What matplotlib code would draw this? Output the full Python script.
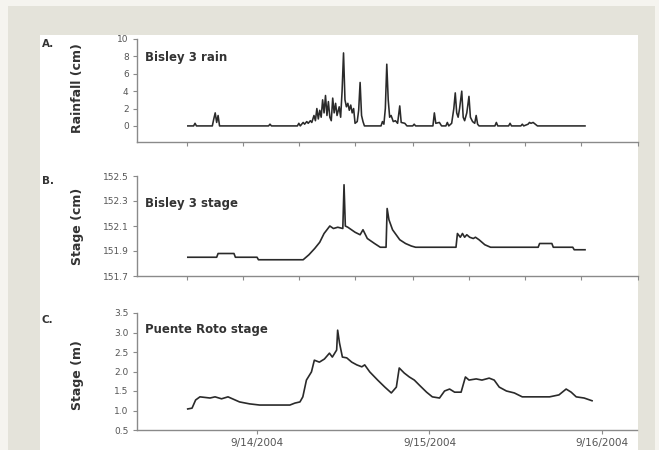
import matplotlib
matplotlib.use("Agg")
import matplotlib.pyplot as plt
from matplotlib.patches import Rectangle

# ---------------- data (time in hours since 9/13/2004 00:00) ----------------
rain_hours = [14.4, 15.2, 15.4, 15.6, 17.8, 18.0, 18.2, 18.4, 18.6, 18.8, 25.6, 25.8, 26.0,
              29.6, 29.8, 30.0, 30.4, 30.6, 30.9, 31.1, 31.4, 31.6, 31.9, 32.1, 32.3, 32.5,
              32.7, 32.9, 33.1, 33.3, 33.5, 33.7, 33.9, 34.1, 34.3, 34.5, 34.7, 34.9, 35.1,
              35.4, 35.6, 35.8, 36.0, 36.2, 36.4, 36.6, 36.8, 37.0, 37.2, 37.4, 37.6, 37.9,
              38.1, 38.3, 38.5, 38.7, 38.9, 41.2, 41.4, 41.6, 41.8, 42.0, 42.2, 42.4, 42.6,
              42.9, 43.2, 43.5, 43.8, 44.0, 44.5, 44.8, 45.6, 45.8, 46.0, 48.4, 48.6, 48.8,
              49.3, 49.6, 50.2, 50.4, 50.6, 51.0, 51.3, 51.5, 51.7, 51.9, 52.1, 52.4, 52.6,
              52.8, 53.1, 53.4, 53.6, 53.9, 54.2, 54.4, 54.6, 54.8, 57.0, 57.2, 57.4, 58.9,
              59.1, 59.3, 60.6, 60.8, 61.0, 61.6, 61.8, 62.0, 62.3, 62.6, 62.9, 69.5]
rain_cm = [0, 0, 0.3, 0, 0, 0.8, 1.5, 0.4, 1.2, 0, 0, 0.2, 0,
           0, 0.3, 0, 0.4, 0.2, 0.5, 0.3, 0.6, 0.4, 1.2, 0.6, 2.0, 0.8,
           1.8, 1.0, 3.0, 1.5, 3.5, 1.2, 2.8, 1.0, 0.6, 3.2, 1.5, 2.6, 1.2,
           2.2, 1.0, 4.0, 8.4, 3.0, 2.2, 2.6, 1.8, 2.4, 1.5, 2.0, 0.3, 0.5,
           1.8, 5.0, 1.2, 0.5, 0, 0, 0.5, 0.2, 2.0, 7.1, 3.0, 1.0, 1.2,
           0.5, 0.6, 0.3, 2.3, 0.4, 0.3, 0, 0, 0.2, 0, 0, 1.5, 0.3,
           0.4, 0, 0, 0.4, 0, 0.3, 2.0, 3.8, 1.5, 1.0, 2.0, 4.0, 1.0,
           0.6, 1.5, 3.4, 1.0, 0.5, 0.3, 1.2, 0.2, 0, 0, 0.4, 0, 0,
           0.3, 0, 0, 0.2, 0, 0.2, 0.4, 0.3, 0.4, 0.2, 0, 0]

bisley_hours = [14.4, 18.4, 18.6, 20.8, 21.0, 24.0, 24.2, 30.4, 31.2, 32.0, 32.7, 33.3, 34.1,
                34.6, 35.2, 35.9, 36.07, 36.25, 36.6, 37.6, 38.3, 38.7, 39.3, 40.3, 41.1,
                41.9, 42.05, 42.3, 42.8, 43.3, 43.8, 44.6, 45.4, 46.0, 51.6, 51.8, 52.2,
                52.5, 52.8, 53.1, 53.5, 54.0, 54.3, 54.8, 55.6, 56.4, 63.0, 63.2, 64.9,
                65.1, 67.8, 68.0, 69.5]
bisley_stage = [151.85, 151.85, 151.88, 151.88, 151.85, 151.85, 151.83, 151.83, 151.87,
                151.92, 151.97, 152.04, 152.10, 152.08, 152.09, 152.08, 152.43, 152.10,
                152.09, 152.05, 152.03, 152.07, 152.00, 151.96, 151.93, 151.93, 152.24,
                152.15, 152.07, 152.03, 151.99, 151.96, 151.94, 151.93, 151.93, 152.04,
                152.01, 152.04, 152.01, 152.03, 152.01, 152.00, 152.01, 151.99, 151.95,
                151.93, 151.93, 151.96, 151.96, 151.93, 151.93, 151.91, 151.91]

puente_hours = [14.4, 15.0, 15.5, 16.1, 17.5, 18.2, 19.1, 20.0, 21.6, 23.0, 24.4, 28.6,
                29.3, 30.0, 30.4, 30.9, 31.6, 32.0, 32.7, 33.4, 34.1, 34.5, 35.1, 35.24,
                35.5, 35.9, 36.5, 37.2, 37.9, 38.6, 39.0, 39.7, 40.8, 41.8, 42.7, 43.4,
                43.8, 44.5, 45.2, 45.9, 46.6, 47.6, 48.4, 49.4, 50.1, 50.8, 51.5, 52.4,
                53.0, 53.5, 54.5, 55.3, 56.3, 57.0, 57.7, 58.7, 59.8, 60.9, 62.6, 64.7,
                66.0, 67.0, 67.7, 68.4, 69.5, 70.6]
puente_stage = [1.04, 1.06, 1.27, 1.35, 1.32, 1.35, 1.30, 1.35, 1.22, 1.17, 1.14, 1.14,
                1.19, 1.22, 1.35, 1.78, 1.99, 2.29, 2.24, 2.32, 2.47, 2.37, 2.55, 3.06,
                2.73, 2.37, 2.35, 2.24, 2.17, 2.12, 2.17, 1.99, 1.78, 1.60, 1.45, 1.60,
                2.09, 1.96, 1.86, 1.78, 1.65, 1.47, 1.35, 1.32, 1.50, 1.55, 1.47, 1.47,
                1.86, 1.78, 1.81, 1.78, 1.83, 1.78, 1.60, 1.50, 1.45, 1.35, 1.35, 1.35,
                1.40, 1.55, 1.47, 1.35, 1.32, 1.25]

rain_yticks = [0, 2, 4, 6, 8, 10]
bisley_yticks = [151.7, 151.9, 152.1, 152.3, 152.5]
puente_yticks = [0.5, 1.0, 1.5, 2.0, 2.5, 3.0, 3.5]
minor_xticks = [14.3, 22.1, 29.8, 37.6, 45.6, 53.4, 61.2, 69.0, 76.8]
date_ticks = [24, 48, 72]
date_labels = ["9/14/2004", "9/15/2004", "9/16/2004"]

titles = ["Bisley 3 rain", "Bisley 3 stage", "Puente Roto stage"]
ylabels = ["Rainfall (cm)", "Stage (cm)", "Stage (m)"]
letters = ["A.", "B.", "C."]

# ---------------- figure ----------------
W, H = 659, 450
fig = plt.figure(figsize=(W / 100, H / 100), dpi=100, facecolor="#f5f4ef")
fig.patches.append(Rectangle((8 / W, 0), 647 / W, 444 / H, transform=fig.transFigure,
                             facecolor="#e4e3da", edgecolor="none", zorder=-2))
fig.patches.append(Rectangle((40 / W, 0), 598 / W, 415 / H, transform=fig.transFigure,
                             facecolor="white", edgecolor="none", zorder=-1))

FONT = "DejaVu Sans"
line_c = "#2a2a2a"
spine_c = "#8a8a8a"

def px_axes(left, top, right, bottom):
    return fig.add_axes([left / W, 1 - bottom / H, (right - left) / W, (bottom - top) / H])

axA = px_axes(137, 39, 638, 142)
axB = px_axes(137, 176, 638, 276)
axC = px_axes(137, 313, 637, 430)

xlim = (7.35, 76.85)

for ax in (axA, axB, axC):
    ax.set_facecolor("none")
    for s in ("top", "right"):
        ax.spines[s].set_visible(False)
    for s in ("left", "bottom"):
        ax.spines[s].set_color(spine_c)
        ax.spines[s].set_linewidth(1.0)
    ax.set_xlim(*xlim)
    ax.tick_params(axis="both", colors=spine_c, labelcolor="#555555", labelsize=6.5,
                   length=3, width=0.8, pad=3)

axA.plot(rain_hours, rain_cm, color=line_c, lw=1.15)
axA.set_ylim(-1.85, 10)
axA.set_yticks(rain_yticks)
axA.set_yticklabels([str(v) for v in rain_yticks])

axB.plot(bisley_hours, bisley_stage, color=line_c, lw=1.2)
axB.set_ylim(151.7, 152.5)
axB.set_yticks(bisley_yticks)
axB.set_yticklabels([f"{v:.1f}" for v in bisley_yticks])

axC.plot(puente_hours, puente_stage, color=line_c, lw=1.2)
axC.set_ylim(0.5, 3.5)
axC.set_yticks(puente_yticks)
axC.set_yticklabels([f"{v:.1f}" for v in puente_yticks])

for ax in (axA, axB):
    ax.set_xticks(minor_xticks)
    ax.set_xticklabels([])
axC.set_xticks(date_ticks)
axC.set_xticklabels(date_labels)
axC.tick_params(axis="x", labelsize=7.5, pad=3)

title_y = [58, 203, 330]
ylabel_y = [88, 226, 375]
letter_y = [44, 181, 320]
for ax, t, yl, l, ty, yy, ly in zip((axA, axB, axC), titles, ylabels, letters,
                                    title_y, ylabel_y, letter_y):
    fig.text(145 / W, 1 - ty / H, t, fontsize=8.5, fontweight="bold", color="#333333",
             family=FONT, ha="left", va="center")
    fig.text(78 / W, 1 - yy / H, yl, fontsize=9, fontweight="bold", color="#333333",
             family=FONT, rotation=90, ha="center", va="center")
    fig.text(42 / W, 1 - ly / H, l, fontsize=7.5, fontweight="bold", color="#333333",
             family=FONT, ha="left", va="center")

fig.savefig("out.png", dpi=100, facecolor=fig.get_facecolor())
